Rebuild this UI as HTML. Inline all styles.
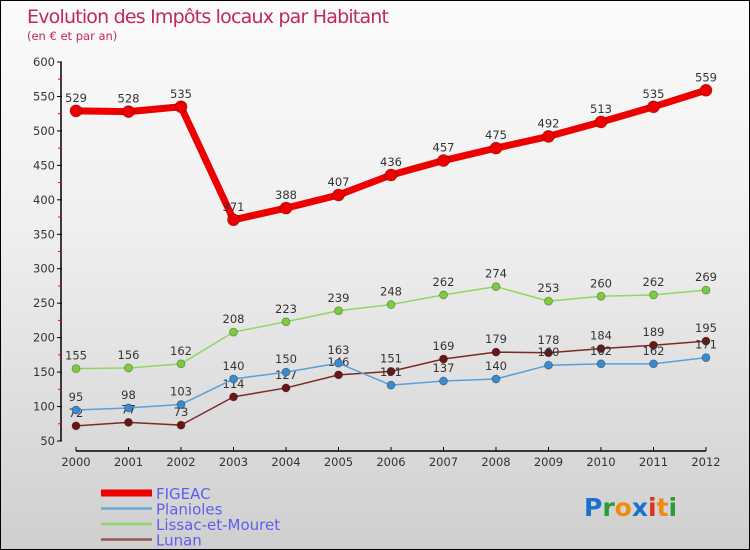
<!DOCTYPE html>
<html><head><meta charset="utf-8"><style>
body{margin:0;}
#c{width:748px;height:548px;border:1px solid #000;background:linear-gradient(#fbfbfb,#f0f0f0 40%,#cfcfcf);position:relative;font-family:"DejaVu Sans","Liberation Sans",sans-serif;}
</style></head><body>
<div id="c">
<svg id="s" width="748" height="548" style="position:absolute;left:0;top:0">
<text x="26" y="22" font-size="19" fill="#c0285a" font-weight="200" style="font-family:'DejaVu Sans',sans-serif;font-weight:normal" textLength="362">Evolution des Impôts locaux par Habitant</text>
<text x="26" y="39" font-size="11.5" fill="#c0285a">(en € et par an)</text>
</svg>
</div>
<script>
const years=["2000","2001","2002","2003","2004","2005","2006","2007","2008","2009","2010","2011","2012"];
const figeac=[529,528,535,371,388,407,436,457,475,492,513,535,559];
const planioles=[95,98,103,140,150,163,131,137,140,160,162,162,171];
const lissac=[155,156,162,208,223,239,248,262,274,253,260,262,269];
const lunan=[72,77,73,114,127,146,151,169,179,178,184,189,195];
const yTicks=[50,100,150,200,250,300,350,400,450,500,550,600];
const seriesNames=["FIGEAC","Planioles","Lissac-et-Mouret","Lunan"];
const s=document.getElementById('s');const NS='http://www.w3.org/2000/svg';
function X(i){return 75+i*52.5;}
function Y(v){return 440-(v-50)*(379/550);}
function mk(t,a,p){const e=document.createElementNS(NS,t);for(const k in a)e.setAttribute(k,a[k]);(p||s).appendChild(e);return e;}
// y axis
let ya=mk('line',{x1:60,y1:Y(600),x2:60,y2:Y(50),stroke:'#000','stroke-width':1.5});


yTicks.forEach((v,i)=>{
 mk('line',{x1:56,y1:Y(v),x2:61,y2:Y(v),stroke:'#000'});
 let t=mk('text',{x:54,y:Y(v)+4,'font-size':11.5,fill:'#333','text-anchor':'end'});t.textContent=v;
 
 
 if(i<yTicks.length-1) mk('line',{x1:57,y1:Y(v+25),x2:60,y2:Y(v+25),stroke:'#f00'});
});
// x axis
let xa=mk('line',{x1:75,y1:450,x2:705,y2:450,stroke:'#000','stroke-width':1.5});


years.forEach((y,i)=>{
 mk('line',{x1:X(i),y1:446,x2:X(i),y2:450,stroke:'#000'});
 let t=mk('text',{x:X(i),y:465,'font-size':11.5,fill:'#333','text-anchor':'middle'});t.textContent=y;
 
 
});
function series(data,color,w,r,dot,name){
 const g=mk('g',{});
 
 
 mk('polyline',{points:data.map((v,i)=>X(i)+','+Y(v)).join(' '),fill:'none',stroke:color,'stroke-width':w,'stroke-linejoin':'round'},g);
 data.forEach((v,i)=>{
  let c=mk('circle',{cx:X(i),cy:Y(v),r:r,fill:dot,stroke:'rgba(0,0,0,0.35)','stroke-width':0.8},g);
  
  
  let t=mk('text',{x:X(i),y:Y(v)-9,'font-size':11.5,fill:'#333','text-anchor':'middle'},g);t.textContent=v;
  
  
 });
}
series(lunan,'#7a2a2a',1.5,4,'#6b1515','lunan');
series(planioles,'#5aa0d8',1.5,4,'#3a8ad0','planioles');
series(lissac,'#8fd860',1.5,4,'#7ccc40','lissac');
series(figeac,'#ee0000',7,6,'#ee0000','figeac');
// legend
const lc=['#ee0000','#6aa8d8','#90d868','#955555'],lw=[7,2.5,2.5,2.5];
seriesNames.forEach((n,i)=>{
 const y=492+i*15.5;
 const g=mk('g',{});
 
 
 mk('line',{x1:100,y1:y,x2:151,y2:y,stroke:lc[i],'stroke-width':lw[i]},g);
 let t=mk('text',{x:155,y:y+6,'font-size':15,fill:'#5e5ef0'},g);t.textContent=n;
});
// logo
const logo=mk('text',{x:583,y:515,'font-size':25,'font-weight':'bold'});


[['P','#1a6fd0'],['r','#2a9a3a'],['o','#f08a10'],['x','#1a6fd0'],['i','#e03020'],['t','#f08a10'],['i','#2a9a3a']].forEach(([c,f])=>{const ts=mk('tspan',{fill:f},logo);ts.textContent=c;});
</script>
</body></html>
